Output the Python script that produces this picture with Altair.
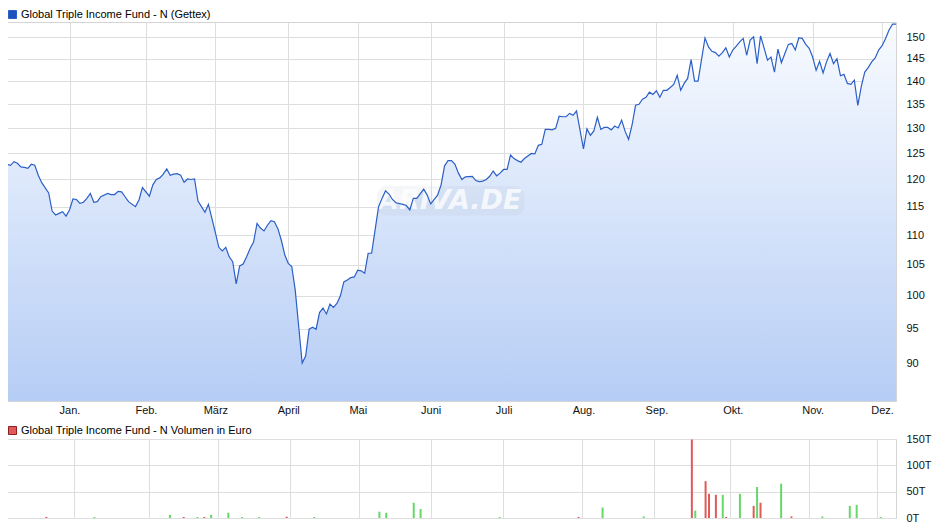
import altair as alt
import pandas as pd

FONT = "Liberation Sans"
series_name = "Global Triple Income Fund - N (Gettex)"
volume_name = "Global Triple Income Fund - N Volumen in Euro"
watermark = "ARIVA.DE"

holidays = ["2024-12-25", "2024-12-26", "2025-01-01", "2025-04-18", "2025-04-21", "2025-05-01"]

month_names = ["Jan.", "Feb.", "März", "April", "Mai", "Juni", "Juli", "Aug.", "Sep.", "Okt.", "Nov.", "Dez."]

price_dates = [
    "2024-12-04", "2024-12-05", "2024-12-06", "2024-12-09", "2024-12-10", "2024-12-11", "2024-12-12", "2024-12-13",
    "2024-12-16", "2024-12-17", "2024-12-18", "2024-12-20", "2024-12-23", "2024-12-24", "2024-12-27", "2024-12-30", "2024-12-31",
    "2025-01-02", "2025-01-03", "2025-01-06", "2025-01-07", "2025-01-08", "2025-01-09", "2025-01-10", "2025-01-13",
    "2025-01-14", "2025-01-15", "2025-01-17", "2025-01-20", "2025-01-21", "2025-01-22", "2025-01-23", "2025-01-24",
    "2025-01-27", "2025-01-29", "2025-01-30", "2025-01-31",
    "2025-02-04", "2025-02-05", "2025-02-06", "2025-02-07", "2025-02-10", "2025-02-11", "2025-02-12", "2025-02-13",
    "2025-02-14", "2025-02-17", "2025-02-18", "2025-02-19", "2025-02-20", "2025-02-21", "2025-02-24", "2025-02-25",
    "2025-02-26", "2025-02-27", "2025-02-28",
    "2025-03-03", "2025-03-04", "2025-03-05", "2025-03-06", "2025-03-07", "2025-03-10", "2025-03-11", "2025-03-12",
    "2025-03-13", "2025-03-14", "2025-03-17", "2025-03-18", "2025-03-19", "2025-03-20", "2025-03-21", "2025-03-24",
    "2025-03-25", "2025-03-26", "2025-03-27", "2025-03-28", "2025-03-31",
    "2025-04-01", "2025-04-02", "2025-04-03", "2025-04-04", "2025-04-07", "2025-04-08", "2025-04-09", "2025-04-10",
    "2025-04-11", "2025-04-14", "2025-04-15", "2025-04-16", "2025-04-17", "2025-04-22", "2025-04-23", "2025-04-24",
    "2025-04-25", "2025-04-28", "2025-04-29", "2025-04-30",
    "2025-05-02", "2025-05-05", "2025-05-06", "2025-05-07", "2025-05-08", "2025-05-09", "2025-05-12", "2025-05-13",
    "2025-05-14", "2025-05-15", "2025-05-16", "2025-05-19", "2025-05-21", "2025-05-22", "2025-05-23", "2025-05-26",
    "2025-05-27", "2025-05-29", "2025-05-30",
    "2025-06-02", "2025-06-04", "2025-06-05", "2025-06-06", "2025-06-09", "2025-06-10", "2025-06-11", "2025-06-12",
    "2025-06-13", "2025-06-16", "2025-06-18", "2025-06-19", "2025-06-20", "2025-06-23", "2025-06-24", "2025-06-25",
    "2025-06-26", "2025-06-27", "2025-06-30",
    "2025-07-01", "2025-07-02", "2025-07-03", "2025-07-04", "2025-07-07", "2025-07-08", "2025-07-09", "2025-07-11",
    "2025-07-14", "2025-07-15", "2025-07-16", "2025-07-17", "2025-07-18", "2025-07-21", "2025-07-22", "2025-07-23",
    "2025-07-24", "2025-07-25", "2025-07-28", "2025-07-29", "2025-07-30", "2025-07-31",
    "2025-08-01", "2025-08-04", "2025-08-05", "2025-08-06", "2025-08-07", "2025-08-08", "2025-08-11", "2025-08-12",
    "2025-08-13", "2025-08-14", "2025-08-15", "2025-08-18", "2025-08-19", "2025-08-20", "2025-08-21", "2025-08-22",
    "2025-08-25", "2025-08-26", "2025-08-27", "2025-08-28", "2025-08-29",
    "2025-09-01", "2025-09-02", "2025-09-03", "2025-09-04", "2025-09-05", "2025-09-08", "2025-09-09", "2025-09-10",
    "2025-09-11", "2025-09-12", "2025-09-15", "2025-09-16", "2025-09-17", "2025-09-19", "2025-09-22", "2025-09-23",
    "2025-09-24", "2025-09-25", "2025-09-26", "2025-09-29", "2025-09-30",
    "2025-10-01", "2025-10-02", "2025-10-03", "2025-10-06", "2025-10-07", "2025-10-08", "2025-10-09", "2025-10-10",
    "2025-10-13", "2025-10-14", "2025-10-15", "2025-10-16", "2025-10-17", "2025-10-20", "2025-10-21", "2025-10-22",
    "2025-10-23", "2025-10-24", "2025-10-27", "2025-10-28", "2025-10-29", "2025-10-30", "2025-10-31",
    "2025-11-03", "2025-11-04", "2025-11-05", "2025-11-06", "2025-11-07", "2025-11-10", "2025-11-11", "2025-11-12",
    "2025-11-13", "2025-11-14", "2025-11-17", "2025-11-18", "2025-11-19", "2025-11-20", "2025-11-21", "2025-11-24",
    "2025-11-25", "2025-11-26", "2025-11-27", "2025-11-28",
    "2025-12-01", "2025-12-02", "2025-12-03", "2025-12-04", "2025-12-05",
]

price_values = [
    122.9, 122.7, 123.4, 123.1, 122.4, 122.3, 122.1, 122.9,
    122.7, 120.8, 119.4, 117.5, 114.2, 113.5, 113.8, 114.1, 113.3,
    114.4, 116.4, 116.3, 115.6, 115.8, 116.5, 117.4, 115.8,
    115.9, 116.8, 117.4, 117.2, 117.2, 117.8, 117.7, 116.8,
    115.9, 115.0, 116.2, 118.5,
    116.9, 119.0, 120.0, 120.3, 121.0, 122.0, 120.8, 121.0,
    121.1, 120.8, 119.5, 120.1, 120.0, 120.1, 116.0, 115.0,
    114.0, 115.4, 112.9,
    110.4, 107.9, 107.3, 107.9, 106.3, 105.5, 101.9, 104.8,
    105.1, 106.3, 107.7, 108.8, 112.0, 111.2, 110.7, 111.7,
    112.5, 112.3, 111.1, 109.1, 106.6,
    105.2, 104.7, 100.9, 95.3, 90.0, 91.0, 94.9, 95.2,
    94.9, 97.4, 98.1, 97.2, 98.7, 98.2, 98.8, 100.0,
    102.2, 102.5, 102.9, 103.0,
    104.1, 104.0, 103.6, 106.9, 106.9, 110.9, 115.0, 116.5,
    117.9, 117.3, 116.3, 115.7, 115.4, 115.2, 114.4, 116.5,
    116.5, 118.2, 117.1,
    115.5, 117.1, 119.0, 122.6, 123.6, 123.6, 122.9, 121.2,
    120.0, 120.5, 120.6, 119.8, 119.6, 119.7, 120.0, 120.6,
    121.6, 120.7, 121.2,
    121.9, 121.9, 124.7, 124.0, 123.6, 123.3, 124.0, 125.0,
    124.9, 126.6, 126.8, 129.8, 129.8, 129.7, 130.0, 132.5,
    132.4, 132.4, 133.1, 132.7, 133.6, 129.7,
    125.9, 129.9, 128.6, 129.5, 132.3, 129.8, 130.2, 130.2,
    129.7, 130.5, 130.1, 131.7, 129.4, 127.8, 130.7, 134.8,
    135.0, 136.1, 136.5, 137.6, 137.1,
    137.9, 136.5, 138.0, 138.0, 138.6, 139.3, 141.3, 138.0,
    139.5, 140.6, 144.8, 140.0, 140.0, 149.8, 147.7, 146.7,
    146.4, 145.6, 146.4, 147.5, 145.4,
    147.0, 147.9, 148.9, 149.7, 145.8, 149.3, 150.1, 143.9,
    150.3, 147.5, 144.7, 145.4, 142.0, 147.2, 144.1, 146.2,
    148.3, 148.5, 147.0, 149.8, 149.7, 148.3, 147.4,
    145.4, 142.4, 144.4, 141.8, 144.3, 146.2, 143.9, 145.0,
    141.2, 141.5, 139.5, 139.3, 140.2, 134.8, 138.8, 142.0,
    143.0, 144.3, 145.2, 147.0,
    148.0, 149.7, 151.7, 153.1, 153.1,
]

vol_dates = [
    "2024-12-18", "2025-01-10", "2025-02-11", "2025-02-17", "2025-02-21", "2025-02-25", "2025-02-27",
    "2025-03-06", "2025-03-12", "2025-03-19", "2025-03-31", "2025-04-10", "2025-05-12", "2025-05-14",
    "2025-05-26", "2025-05-28", "2025-06-30", "2025-07-31", "2025-08-11", "2025-08-27", "2025-09-16",
    "2025-09-17", "2025-09-22", "2025-09-23", "2025-09-25", "2025-09-29", "2025-09-30", "2025-10-06",
    "2025-10-10", "2025-10-13", "2025-10-14", "2025-10-22", "2025-10-27", "2025-11-07", "2025-11-19",
    "2025-11-21", "2025-12-02",
]
vol_values = [
    2000, 1800, 6000, 2000, 1800, 2000, 6000,
    10000, 1800, 1800, 2500, 1800, 12000, 10000,
    29000, 17000, 1800, 2000, 20000, 3000, 149000,
    14000, 70000, 46000, 44000, 44000, 2000, 46000,
    23000, 59000, 29000, 65000, 3000, 3000, 23000,
    25000, 1800,
]
vol_dir = [
    "down", "up", "up", "down", "up", "down", "up",
    "up", "up", "up", "down", "up", "up", "up",
    "up", "up", "up", "down", "up", "up", "down",
    "up", "down", "down", "down", "up", "down", "up",
    "down", "up", "down", "up", "down", "up", "up",
    "up", "up",
]

# trading-day calendar (the chart's x axis runs over trading days)
calendar = [d.strftime("%Y-%m-%d") for d in pd.bdate_range("2024-12-04", "2025-12-05")]
calendar = [d for d in calendar if d not in holidays]
pos = {d: i for i, d in enumerate(calendar)}
month_ticks = []
seen = set()
for d in calendar:
    if d.startswith("2025") and d[:7] not in seen:
        seen.add(d[:7])
        month_ticks.append(pos[d])

month_expr = ""
for t, m in zip(month_ticks, month_names):
    month_expr += f"datum.value == {t} ? '{m}' : "
month_expr += "''"

price = pd.DataFrame({"date": price_dates, "value": price_values})
price["t"] = price["date"].map(pos)
price["series"] = series_name

vol = pd.DataFrame({"date": vol_dates, "volume": vol_values, "dir": vol_dir})
vol["t"] = vol["date"].map(pos)

W = 889
H1 = 379
H2 = 79
YMIN, YMAX = 84.8, 153.6

xscale = alt.Scale(domain=[0, len(calendar) - 1], nice=False, zero=False)
yscale = alt.Scale(type="log", domain=[YMIN, YMAX], nice=False, zero=False)

x_top = alt.X(
    "t:Q", scale=xscale, title=None,
    axis=alt.Axis(values=month_ticks, labelExpr=month_expr, grid=True, ticks=False, domain=False,
                  labelPadding=3, labelFlush=False, labelOverlap=False),
)
y_top = alt.Y(
    "value:Q", title=None, scale=yscale,
    axis=alt.Axis(orient="right", values=list(range(90, 155, 5)), grid=True, ticks=False,
                  domain=False, labelPadding=10, labelOverlap=False),
)

area = alt.Chart(price).mark_area(
    fill=alt.Gradient(
        gradient="linear",
        stops=[alt.GradientStop(color="#f8fbff", offset=0), alt.GradientStop(color="#b6cdf5", offset=1)],
        x1=1, x2=1, y1=0, y2=1,
    ),
).encode(x=x_top, y=y_top, y2=alt.datum(YMIN))

# faint site watermark, placed in data coordinates
wm_box = alt.Chart(pd.DataFrame({"label": [watermark]})).mark_rect(
    fill="#aab4c4", opacity=0.12, cornerRadius=10
).encode(
    x=alt.datum(106.5, scale=xscale), x2=alt.datum(149.0),
    y=alt.datum(118.8, scale=yscale), y2=alt.datum(113.4),
)
wm_text = alt.Chart(pd.DataFrame({"label": [watermark]})).mark_text(
    font="DejaVu Sans", fontSize=27, fontWeight="bold", fontStyle="italic", color="#ffffff",
    opacity=0.75, align="center", baseline="middle",
).encode(
    x=alt.datum(127.5, scale=xscale), y=alt.datum(116.1, scale=yscale), text="label:N",
)

line = alt.Chart(price).mark_line(strokeWidth=1.2).encode(
    x=x_top,
    y=y_top,
    color=alt.Color(
        "series:N",
        scale=alt.Scale(domain=[series_name], range=["#2b5fc7"]),
        legend=alt.Legend(orient="none", legendX=0, legendY=-13, title=None, symbolType="square",
                          symbolSize=64, symbolFillColor="#1f52bb", symbolStrokeWidth=1,
                          labelFont=FONT, labelFontSize=11, labelColor="#000", labelOffset=3,
                          padding=0, labelLimit=0),
    ),
)

top = alt.layer(area, wm_box, wm_text, line).properties(width=W, height=H1)

bars = alt.Chart(vol).mark_bar(size=2).encode(
    x=alt.X("t:Q", scale=xscale, title=None,
            axis=alt.Axis(values=month_ticks, labels=False, ticks=False, domain=False, grid=True)),
    y=alt.Y("volume:Q", title=None, scale=alt.Scale(domain=[0, 150000], nice=False),
            axis=alt.Axis(orient="right", values=[0, 50000, 100000, 150000],
                          labelExpr="(datum.value / 1000) + 'T'", grid=True, ticks=False,
                          domain=False, labelPadding=10, labelOverlap=False)),
    color=alt.Color(
        "dir:N",
        scale=alt.Scale(domain=["down", "up"], range=["#e05a5a", "#66d866"]),
        legend=alt.Legend(values=["down"], labelExpr=f"'{volume_name}'", orient="none", legendX=0,
                          legendY=-14, title=None, symbolType="square", symbolSize=64,
                          symbolStrokeColor="#8a2020", symbolStrokeWidth=1, labelFont=FONT,
                          labelFontSize=11, labelColor="#000", labelOffset=3, padding=0, labelLimit=0),
    ),
).properties(width=W, height=H2)

chart = (
    alt.vconcat(top, bars, spacing=8)
    .resolve_scale(color="independent")
    .resolve_legend(color="independent")
    .properties(padding={"left": -4, "top": 0, "right": 0, "bottom": 0})
    .configure_view(stroke="#d4d4d4", strokeWidth=1)
    .configure_axis(gridColor="#dedede", gridWidth=1, labelFont=FONT, labelFontSize=11, labelColor="#111")
    .configure_legend(padding=0)
)

chart.save("out.html", embed_options={"renderer": "svg", "actions": False})
